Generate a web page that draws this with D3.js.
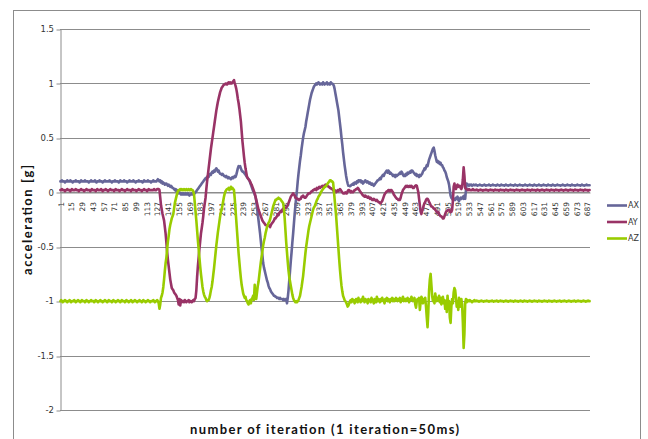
<!DOCTYPE html>
<html>
<head>
<meta charset="utf-8">
<script src="https://cdn.jsdelivr.net/npm/d3@7"></script>
<style>
  html, body { margin: 0; padding: 0; background: #fff; }
  svg { display: block; }
</style>
</head>
<body>
<script>
// Accelerometer readings [g] per iteration (1 iteration = 50 ms)
const seriesNames = ["AX", "AY", "AZ"];
const seriesColors = ["#666699", "#993366", "#99cc00"];

const ax = [
// 1-130
.10,.10,.11,.10,.10,.10,.09,.10,.10,.11,
.10,.10,.10,.11,.10,.10,.09,.10,.10,.10,
.11,.10,.10,.10,.10,.09,.10,.11,.10,.10,
.10,.10,.11,.10,.10,.10,.10,.09,.10,.10,
.11,.10,.10,.10,.10,.11,.10,.09,.10,.10,
.10,.11,.10,.10,.10,.09,.10,.10,.11,.10,
.10,.10,.10,.10,.11,.10,.10,.09,.10,.10,
.10,.11,.10,.10,.10,.10,.09,.10,.11,.10,
.10,.10,.10,.11,.10,.10,.10,.09,.10,.10,
.11,.10,.10,.10,.10,.11,.10,.10,.09,.10,
.10,.10,.11,.10,.10,.10,.10,.09,.10,.11,
.10,.10,.10,.10,.11,.10,.10,.10,.09,.10,
.10,.11,.10,.10,.10,.10,.11,.12,.11,.10,
// 131-250
.11,.09,.10,.08,.09,.08,.07,.08,.08,.07,
.06,.07,.06,.05,.06,.05,.04,.04,.03,.02,
.03,.01,.02,.00,-.01,.00,-.01,-.02,-.01,-.02,
-.01,-.02,-.02,-.01,-.02,-.02,-.01,-.02,-.03,-.02,
-.02,-.01,-.02,-.02,-.01,-.01,.00,.01,.02,.03,
.04,.05,.06,.07,.08,.09,.10,.11,.12,.13,
.12,.14,.15,.14,.16,.17,.16,.18,.19,.18,
.20,.19,.21,.22,.21,.19,.20,.18,.17,.17,
.16,.17,.16,.15,.15,.14,.15,.14,.13,.14,
.13,.13,.12,.13,.14,.13,.14,.15,.14,.16,
.19,.22,.24,.23,.24,.22,.20,.19,.19,.18,
.17,.16,.15,.14,.13,.12,.11,.09,.07,.05,
// 251-380
.03,.01,.00,-.02,-.04,-.08,-.14,-.20,-.26,-.32,
-.38,-.45,-.52,-.58,-.65,-.69,-.72,-.75,-.78,-.81,
-.83,-.86,-.88,-.89,-.91,-.92,-.93,-.94,-.95,-.95,
-.96,-.96,-.97,-.97,-.97,-.98,-.97,-.98,-.98,-.98,
-.99,-.98,-.99,-.99,-.98,-1.02,-.97,-.90,-.81,-.72,
-.63,-.55,-.46,-.38,-.29,-.20,-.12,-.05,.02,.10,
.17,.23,.29,.34,.40,.45,.50,.54,.57,.60,
.65,.69,.73,.77,.81,.85,.88,.91,.93,.95,
.97,.98,.99,1.00,.99,1.00,1.01,1.00,.99,1.00,
1.00,.99,1.01,1.00,.99,1.00,1.00,1.01,.99,1.00,
1.00,.99,1.01,1.00,1.00,.99,.98,.95,.91,.87,
.83,.79,.75,.69,.63,.57,.50,.44,.37,.31,
.25,.20,.15,.11,.08,.06,.06,.055,.06,.07,
// 381-540
.07,.08,.07,.09,.09,.08,.10,.09,.11,.11,
.10,.11,.09,.10,.08,.09,.10,.11,.10,.09,
.10,.09,.08,.09,.08,.07,.08,.07,.06,.07,
.08,.09,.10,.11,.11,.12,.13,.12,.14,.15,
.16,.15,.17,.18,.19,.20,.18,.20,.19,.17,
.18,.17,.16,.15,.16,.15,.14,.16,.15,.16,
.16,.17,.18,.17,.19,.18,.16,.15,.16,.15,
.17,.16,.18,.17,.18,.19,.18,.20,.20,.19,
.18,.17,.16,.17,.15,.16,.15,.14,.16,.15,
.16,.17,.19,.20,.22,.21,.23,.25,.24,.27,
.30,.32,.34,.36,.38,.40,.41,.38,.34,.31,
.28,.29,.27,.28,.26,.27,.25,.25,.23,.22,
.20,.19,.17,.14,.12,.10,.07,.02,-.03,-.05,
-.06,-.07,-.07,-.06,-.07,-.05,-.06,-.04,-.07,-.08,
-.06,-.05,-.06,-.05,-.04,-.06,-.03,-.06,.02,.08,
.07,.07,.06,.07,.065,.07,.06,.065,.07,.065,
// 541-690
.065,.07,.065,.06,.065,.065,.07,.065,.065,.06,
.065,.065,.07,.065,.06,.065,.065,.065,.07,.065,
.06,.065,.065,.07,.065,.065,.065,.06,.065,.07,
.065,.065,.06,.065,.07,.065,.065,.065,.06,.065,
.07,.065,.065,.06,.065,.065,.07,.065,.065,.065,
.06,.065,.07,.065,.065,.06,.065,.065,.07,.065,
.065,.065,.06,.065,.065,.07,.065,.065,.06,.065,
.065,.07,.065,.065,.065,.06,.065,.07,.065,.065,
.06,.065,.065,.07,.065,.065,.06,.065,.065,.07,
.065,.065,.065,.06,.065,.07,.065,.065,.065,.06,
.065,.07,.065,.065,.06,.065,.065,.07,.065,.065,
.065,.06,.065,.065,.07,.065,.065,.06,.065,.065,
.07,.065,.065,.065,.06,.065,.07,.065,.065,.065,
.06,.065,.065,.07,.065,.065,.065,.06,.065,.07,
.065,.065,.06,.065,.065,.07,.065,.065,.065,.065
];

const ay = [
// 1-130
.02,.02,.03,.02,.02,.02,.01,.02,.02,.03,
.02,.02,.02,.01,.02,.03,.02,.02,.02,.02,
.03,.02,.02,.02,.01,.02,.02,.03,.02,.02,
.02,.01,.02,.02,.03,.02,.02,.02,.02,.01,
.02,.03,.02,.02,.02,.02,.01,.02,.03,.02,
.02,.02,.02,.03,.02,.01,.02,.02,.02,.03,
.02,.02,.01,.02,.02,.03,.02,.02,.02,.02,
.01,.02,.03,.02,.02,.02,.02,.01,.02,.02,
.03,.02,.02,.02,.01,.02,.02,.03,.02,.02,
.02,.02,.01,.02,.03,.02,.02,.02,.02,.01,
.02,.02,.03,.02,.02,.02,.01,.02,.02,.03,
.02,.02,.02,.01,.02,.03,.02,.02,.02,.02,
.02,.02,.03,.02,.02,.02,.03,.03,.03,.02,
// 131-250
-.05,-.12,-.16,-.20,-.23,-.26,-.32,-.38,-.46,-.55,
-.62,-.68,-.74,-.80,-.84,-.88,-.89,-.90,-.92,-.93,
-.94,-.95,-.97,-.99,-1.03,-.98,-1.04,-.99,-1.01,-1.00,
-1.00,-1.01,-.99,-1.00,-1.01,-1.00,-1.00,-.99,-1.01,-1.00,
-1.00,-1.01,-1.00,-.99,-1.00,-.98,-.97,-.90,-.78,-.68,
-.60,-.52,-.45,-.38,-.33,-.28,-.22,-.15,-.10,-.05,
.03,.10,.16,.22,.28,.34,.40,.45,.50,.55,
.60,.65,.70,.75,.79,.83,.86,.89,.92,.94,
.96,.97,.98,.99,.99,1.00,1.00,.99,1.00,1.01,
1.00,1.01,1.00,1.00,1.01,1.02,1.03,1.00,.98,.95,
.91,.86,.82,.77,.71,.65,.56,.47,.40,.33,
.27,.22,.18,.14,.13,.12,.11,.10,.08,.07,
// 251-380
.05,.03,.01,-.01,-.04,-.07,-.10,-.13,-.16,-.18,
-.20,-.22,-.24,-.26,-.27,-.28,-.29,-.30,-.30,-.31,
-.30,-.30,-.31,-.32,-.30,-.29,-.28,-.27,-.26,-.24,
-.24,-.23,-.22,-.20,-.21,-.19,-.18,-.17,-.18,-.16,
-.15,-.16,-.15,-.14,-.14,-.13,-.12,-.10,-.08,-.06,
-.04,-.03,-.02,-.01,-.02,-.03,-.05,-.05,-.06,-.06,
-.07,-.07,-.06,-.06,-.04,-.04,-.03,-.04,-.05,-.05,
-.04,-.03,-.02,-.01,-.01,-.01,.00,.01,.01,.02,
.02,.03,.03,.02,.04,.03,.04,.05,.04,.05,
.05,.06,.05,.06,.06,.07,.06,.065,.06,.05,
.05,.04,.04,.03,.03,.02,.01,.02,.01,.00,
.01,.02,.01,.02,.03,.02,.01,.00,-.01,-.01,
-.01,.00,-.01,-.01,.01,.02,.02,.01,.00,.01,
// 381-540
.00,.00,.01,.02,.02,.03,.03,.04,.035,.02,
.01,.00,-.01,-.02,-.03,-.03,-.04,-.03,-.04,-.04,
-.05,-.04,-.05,-.06,-.05,-.06,-.07,-.07,-.06,-.07,
-.07,-.08,-.07,-.08,-.09,-.09,-.10,-.10,-.09,-.08,
-.06,-.04,-.02,-.01,.00,.01,.01,.02,.02,.01,
.02,.02,.01,.00,-.02,-.03,-.04,-.05,-.06,-.06,
-.07,-.07,-.07,-.05,-.02,.00,.02,.03,.04,.05,
.06,.05,.06,.05,.05,.06,.05,.06,.05,.04,
.04,.05,.06,.065,.06,.03,.00,-.06,-.12,-.18,
-.20,-.17,-.15,-.12,-.10,-.09,-.07,-.06,-.06,-.07,
-.09,-.10,-.12,-.13,-.13,-.14,-.15,-.15,-.16,-.17,
-.18,-.19,-.18,-.20,-.21,-.22,-.22,-.23,-.24,-.24,
-.22,-.20,-.18,-.17,-.17,-.16,-.16,-.17,-.18,-.18,
-.16,-.08,.05,.08,.04,.03,.06,.07,.05,.06,
.06,.04,.03,.05,.12,.23,.15,.04,.03,.03,
.02,.02,.03,.02,.02,.02,.02,.03,.02,.02,
// 541-690
.02,.02,.025,.02,.015,.02,.02,.025,.02,.02,
.015,.02,.02,.02,.025,.02,.02,.015,.02,.02,
.025,.02,.02,.02,.015,.02,.025,.02,.02,.02,
.02,.015,.02,.025,.02,.02,.02,.02,.015,.02,
.025,.02,.02,.015,.02,.02,.025,.02,.02,.02,
.02,.015,.02,.02,.025,.02,.02,.02,.015,.02,
.02,.025,.02,.02,.02,.015,.02,.02,.025,.02,
.02,.02,.015,.02,.025,.02,.02,.02,.02,.015,
.02,.025,.02,.02,.015,.02,.02,.025,.02,.02,
.015,.02,.02,.025,.02,.02,.02,.015,.02,.025,
.02,.02,.02,.015,.02,.025,.02,.02,.02,.015,
.02,.02,.025,.02,.02,.015,.02,.02,.025,.02,
.02,.015,.02,.02,.025,.02,.02,.02,.015,.02,
.025,.02,.02,.02,.015,.02,.02,.025,.02,.02,
.02,.015,.02,.025,.02,.02,.02,.015,.02,.02
];

const az = [
// 1-130
-1.00,-.99,-1.00,-1.01,-1.00,-1.00,-.99,-1.00,-1.00,-1.01,
-1.00,-1.00,-.99,-1.00,-1.01,-1.00,-1.00,-1.00,-.99,-1.00,
-1.01,-1.00,-1.00,-.99,-1.00,-1.00,-1.01,-1.00,-.99,-1.00,
-1.00,-1.00,-1.01,-1.00,-.99,-1.00,-1.00,-1.01,-1.00,-1.00,
-.99,-1.00,-1.00,-1.00,-1.01,-1.00,-.99,-1.00,-1.00,-1.01,
-1.00,-1.00,-.99,-1.00,-1.00,-1.01,-1.00,-1.00,-.99,-1.00,
-1.00,-1.01,-1.00,-.99,-1.00,-1.00,-1.00,-1.01,-1.00,-.99,
-1.00,-1.00,-1.01,-1.00,-1.00,-.99,-1.00,-1.00,-1.01,-1.00,
-.99,-1.00,-1.00,-1.00,-1.01,-1.00,-.99,-1.00,-1.00,-1.01,
-1.00,-1.00,-.99,-1.00,-1.01,-1.00,-1.00,-.99,-1.00,-1.00,
-1.01,-1.00,-1.00,-.99,-1.00,-1.00,-1.01,-1.00,-.99,-1.00,
-1.00,-1.01,-1.00,-1.00,-.99,-1.00,-1.00,-1.01,-1.00,-1.00,
-1.00,-.99,-1.00,-1.01,-1.00,-1.00,-.99,-1.00,-1.02,-1.07,
// 131-250
-1.03,-.97,-.95,-.92,-.87,-.80,-.72,-.65,-.60,-.52,
-.45,-.40,-.34,-.30,-.27,-.24,-.22,-.20,-.15,-.10,
-.07,-.04,-.01,.01,.02,.02,.03,.02,.03,.02,
.02,.03,.02,.02,.03,.02,.02,.03,.02,.02,
.03,.02,.02,.01,-.02,-.10,-.18,-.26,-.35,-.44,
-.52,-.60,-.68,-.75,-.81,-.87,-.91,-.94,-.96,-.97,
-.99,-1.00,-.99,-.99,-.97,-.94,-.90,-.87,-.82,-.76,
-.70,-.63,-.56,-.49,-.43,-.37,-.32,-.27,-.22,-.18,
-.16,-.12,-.08,-.04,-.01,.01,.02,.03,.03,.04,
.02,.03,.05,.03,.04,.03,.02,-.06,-.16,-.26,
-.36,-.46,-.56,-.64,-.72,-.79,-.85,-.89,-.93,-.95,
-.97,-.96,-.99,-1.00,-1.02,-1.03,-1.00,-.99,-1.02,-.98,
// 251-380
-.97,-.95,-.99,-.85,-.95,-.98,-.92,-.86,-.82,-.76,
-.70,-.64,-.59,-.54,-.49,-.45,-.42,-.38,-.35,-.32,
-.30,-.28,-.27,-.25,-.22,-.19,-.16,-.13,-.11,-.09,
-.07,-.07,-.06,-.06,-.05,-.06,-.06,-.07,-.08,-.09,
-.10,-.15,-.24,-.35,-.46,-.55,-.64,-.72,-.78,-.82,
-.86,-.90,-.94,-.97,-.99,-1.00,-1.01,-1.00,-1.01,-1.00,
-.99,-.97,-.95,-.91,-.87,-.82,-.77,-.70,-.63,-.56,
-.50,-.45,-.40,-.35,-.31,-.28,-.25,-.22,-.19,-.16,
-.14,-.13,-.11,-.09,-.07,-.06,-.04,-.03,-.02,.00,
.01,.02,.03,.04,.05,.05,.06,.07,.08,.09,
.10,.11,.11,.10,.10,.09,.02,-.06,-.14,-.22,
-.32,-.42,-.52,-.62,-.71,-.79,-.86,-.91,-.95,-.97,
-.99,-1.00,-1.01,-1.03,-1.05,-1.04,-1.02,-1.00,-.99,-1.01,
// 381-540
-.98,-1.00,-.99,-1.02,-1.00,-.98,-.99,-1.01,-.97,-1.00,
-.99,-1.01,-.98,-1.00,-.96,-.99,-1.01,-.98,-1.00,-.99,
-1.02,-.98,-1.00,-.99,-1.01,-.97,-.99,-1.00,-1.02,-.98,
-.99,-1.01,-.96,-1.00,-.98,-.99,-1.01,-.98,-1.00,-.97,
-.99,-1.00,-1.02,-.98,-.99,-.97,-1.00,-.98,-.99,-1.01,
-.98,-.99,-.97,-1.00,-.98,-1.00,-.99,-.97,-.98,-1.00,
-.98,-.99,-.97,-1.01,-.99,-.98,-.96,-1.00,-.99,-.98,
-1.00,-.98,-.97,-.99,-1.01,-.98,-.99,-.96,-.98,-1.00,
-.99,-.97,-1.03,-1.06,-1.00,-.98,-.99,-.97,-1.08,-1.01,
-.96,-.98,-1.02,-.98,-1.01,-.97,-1.05,-1.15,-1.24,-1.10,
-.90,-.80,-.75,-.85,-.95,-1.00,-.96,-1.02,-.93,-.98,
-1.00,-.97,-.99,-.95,-1.01,-.97,-1.03,-.98,-.96,-1.02,
-.99,-1.07,-1.00,-1.10,-.95,-1.04,-1.00,-1.15,-1.20,-1.05,
-.98,-1.02,-.92,-.88,-.90,-.97,-1.05,-1.00,-1.08,-.97,
-1.02,-1.05,-.98,-1.03,-1.20,-1.43,-1.30,-1.02,-.98,-1.01,
-.99,-1.00,-1.00,-.99,-1.00,-1.00,-1.01,-1.00,-1.00,-.99,
// 541-690
-1.00,-1.00,-.995,-1.00,-1.00,-1.005,-1.00,-1.00,-.995,-1.00,
-1.00,-1.005,-1.00,-1.00,-1.00,-.995,-1.00,-1.00,-1.005,-1.00,
-1.00,-1.00,-.995,-1.00,-1.005,-1.00,-1.00,-1.00,-.995,-1.00,
-1.005,-1.00,-1.00,-.995,-1.00,-1.00,-1.00,-1.005,-1.00,-1.00,
-.995,-1.00,-1.00,-1.005,-1.00,-1.00,-.995,-1.00,-1.00,-1.00,
-1.005,-1.00,-.995,-1.00,-1.00,-1.00,-1.005,-1.00,-1.00,-.995,
-1.00,-1.00,-1.005,-1.00,-.995,-1.00,-1.00,-1.00,-1.005,-1.00,
-1.00,-.995,-1.00,-1.00,-1.005,-1.00,-1.00,-.995,-1.00,-1.00,
-1.00,-1.005,-1.00,-.995,-1.00,-1.00,-1.00,-1.005,-1.00,-1.00,
-.995,-1.00,-1.00,-1.00,-1.005,-1.00,-.995,-1.00,-1.00,-1.00,
-1.005,-1.00,-1.00,-.995,-1.00,-1.00,-1.005,-1.00,-1.00,-1.00,
-.995,-1.00,-1.005,-1.00,-1.00,-1.00,-.995,-1.00,-1.00,-1.005,
-1.00,-1.00,-.995,-1.00,-1.00,-1.005,-1.00,-1.00,-1.00,-.995,
-1.00,-1.005,-1.00,-1.00,-.995,-1.00,-1.00,-1.00,-1.005,-1.00,
-1.00,-.995,-1.00,-1.00,-1.005,-1.00,-1.00,-.995,-1.00,-1.00
];

const xTickLabels = [1,15,29,43,57,71,85,99,113,127,141,155,169,183,197,211,225,239,253,267,
  281,295,309,323,337,351,365,379,393,407,421,435,449,463,477,491,505,519,533,547,
  561,575,589,603,617,631,645,659,673,687];
const yTicks = [1.5, 1, 0.5, 0, -0.5, -1, -1.5, -2];

const W = 648, H = 439;
const plot = { left: 60, right: 590, top: 29, bottom: 410 };
const gridColor = "#8c8c8c";
const labelFont = "DejaVu Sans";

const series = [ax, ay, az];
const nPoints = d3.max(series, s => s.length);
const iterations = d3.range(1, nPoints + 1);

const svg = d3.select("body").append("svg")
  .attr("width", W).attr("height", H);

// chart frame
svg.append("rect")
  .attr("x", 13.5).attr("y", 10.5)
  .attr("width", 627).attr("height", 440)
  .attr("fill", "#fff").attr("stroke", gridColor).attr("stroke-width", 1);

const x = d3.scalePoint()
  .domain(iterations)
  .range([plot.left, plot.right])
  .padding(0.5);

const y = d3.scaleLinear()
  .domain([-2, 1.5])
  .range([plot.bottom, plot.top]);

// horizontal gridlines
svg.append("g")
  .selectAll("line")
  .data(yTicks)
  .join("line")
  .attr("x1", plot.left).attr("x2", plot.right)
  .attr("y1", d => Math.round(y(d)) + 0.5).attr("y2", d => Math.round(y(d)) + 0.5)
  .attr("stroke", gridColor).attr("stroke-width", 1);

// value axis
const yAxis = svg.append("g")
  .attr("transform", `translate(${plot.left + 0.5},0)`)
  .call(d3.axisLeft(y).tickValues(yTicks).tickSize(4).tickSizeOuter(0)
    .tickFormat(d => String(d)));
yAxis.select(".domain").attr("stroke", gridColor);
yAxis.selectAll(".tick line").attr("stroke", gridColor)
  .attr("transform", d => `translate(0,${Math.round(y(d)) + 0.5 - y(d)})`);
yAxis.selectAll(".tick text")
  .attr("x", -6.5)
  .attr("font-family", labelFont).attr("font-size", 8.5).attr("fill", "#333");

// category axis crossing at zero
const xAxis = svg.append("g")
  .attr("transform", `translate(0,${Math.round(y(0)) + 0.5})`)
  .call(d3.axisBottom(x).tickValues(xTickLabels).tickSize(0).tickSizeOuter(0));
xAxis.select(".domain").attr("stroke", gridColor);
xAxis.selectAll(".tick text")
  .attr("transform", "rotate(-90)")
  .attr("text-anchor", "end")
  .attr("x", -9.5).attr("y", 0).attr("dy", "0.35em")
  .attr("font-family", labelFont).attr("font-size", 7.5).attr("fill", "#333");

// series lines
const line = d3.line()
  .x((d, i) => x(iterations[i]))
  .y(d => y(d));

svg.append("g")
  .selectAll("path")
  .data(series)
  .join("path")
  .attr("d", line)
  .attr("fill", "none")
  .attr("stroke", (d, i) => seriesColors[i])
  .attr("stroke-width", 2.6)
  .attr("stroke-linejoin", "round")
  .attr("stroke-linecap", "round");

// legend
const legendY = [205.5, 222, 238.5];
const legend = svg.append("g")
  .selectAll("g")
  .data(seriesNames)
  .join("g")
  .attr("transform", (d, i) => `translate(607,${legendY[i]})`);
legend.append("line")
  .attr("x1", 0).attr("x2", 20)
  .attr("stroke", (d, i) => seriesColors[i]).attr("stroke-width", 2.6);
legend.append("text")
  .attr("x", 21).attr("dy", "0.35em")
  .attr("font-family", labelFont).attr("font-size", 8).attr("fill", "#333")
  .text(d => d);

// axis titles
svg.append("text")
  .attr("x", 324.5).attr("y", 434)
  .attr("text-anchor", "middle")
  .attr("font-family", "Lato, 'Open Sans', sans-serif")
  .attr("font-weight", "bold").attr("font-size", 13).attr("fill", "#111")
  .attr("textLength", 269).attr("lengthAdjust", "spacing")
  .text("number of iteration (1 iteration=50ms)");

svg.append("text")
  .attr("transform", "translate(31.5,220) rotate(-90)")
  .attr("text-anchor", "middle")
  .attr("font-family", "Lato, 'Open Sans', sans-serif")
  .attr("font-weight", "bold").attr("font-size", 13).attr("fill", "#111")
  .attr("textLength", 110).attr("lengthAdjust", "spacing")
  .text("acceleration [g]");
</script>
</body>
</html>
